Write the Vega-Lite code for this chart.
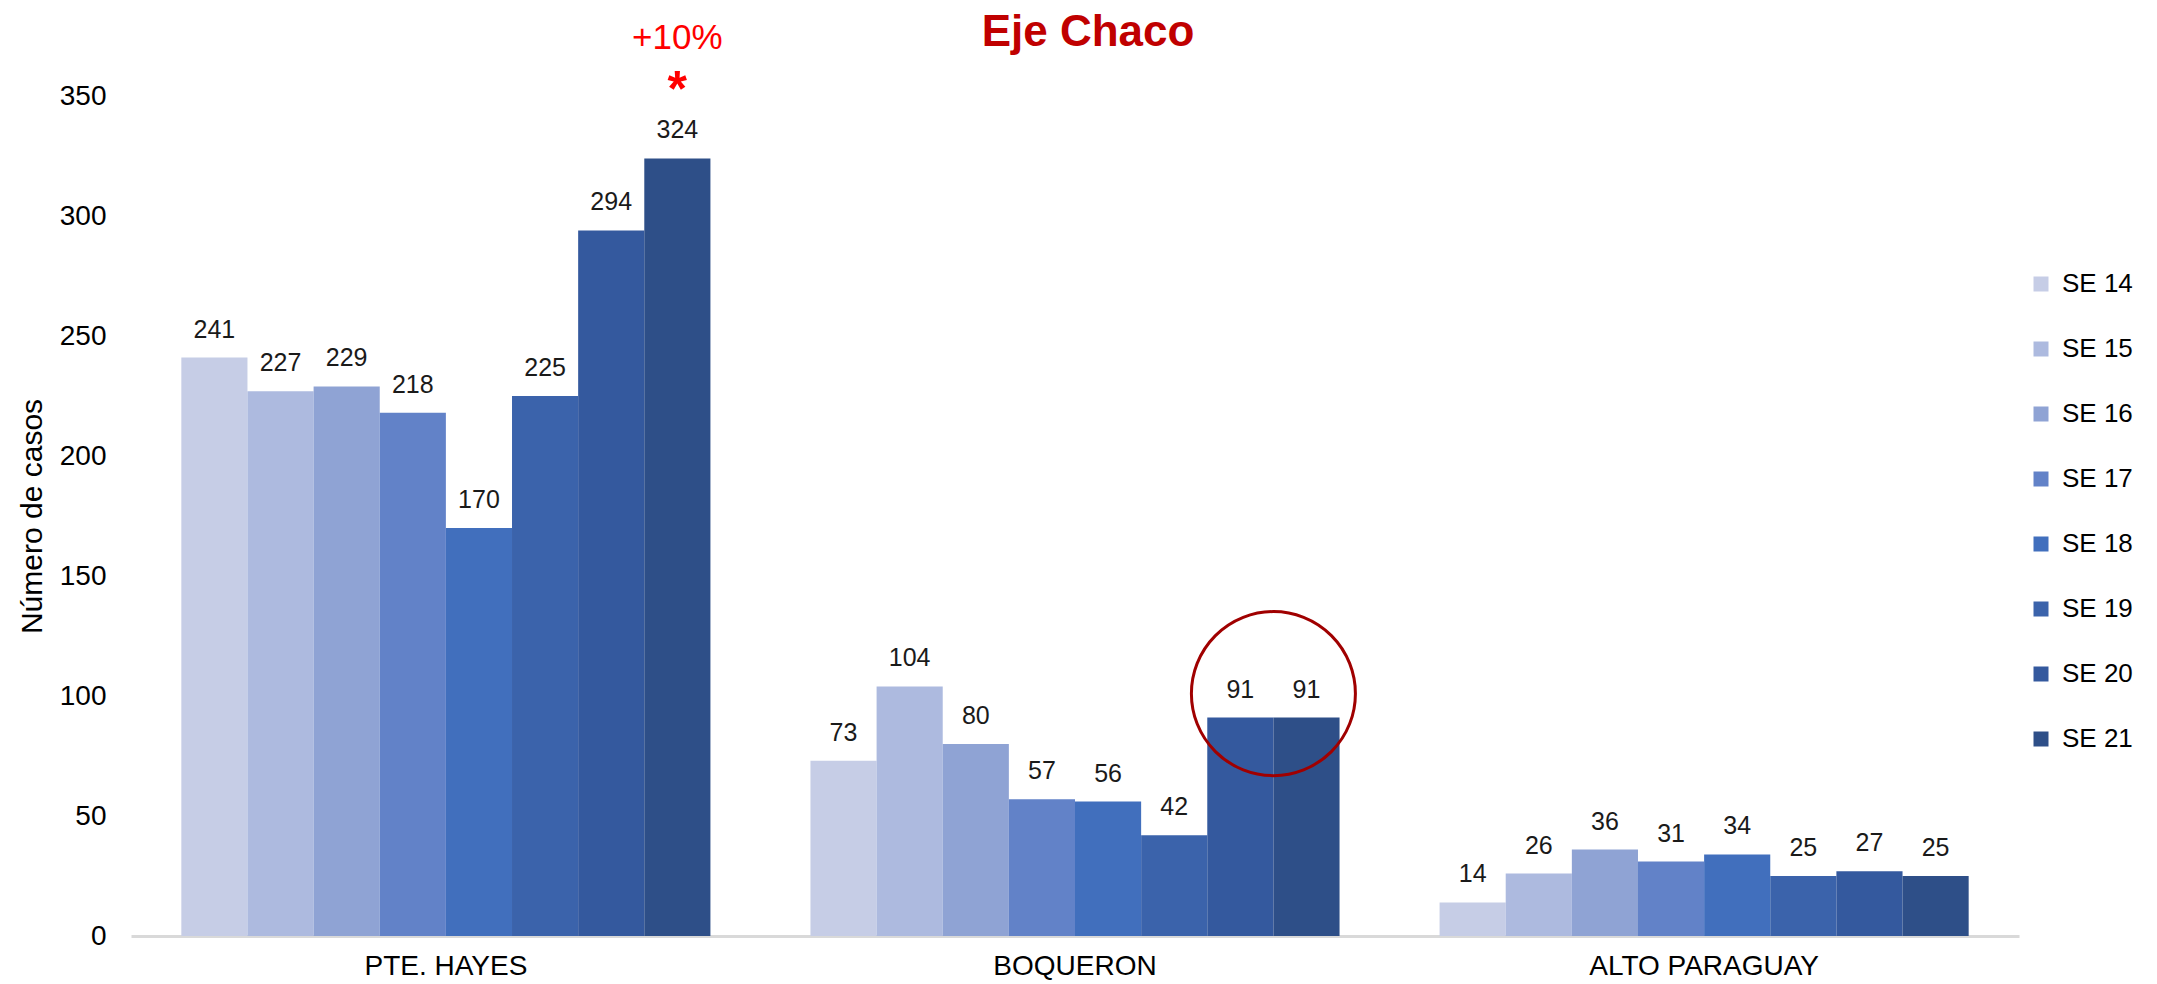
{
  "$schema": "https://vega.github.io/schema/vega-lite/v6.json",
  "width": 1888,
  "height": 840,
  "autosize": {"type": "none"},
  "padding": {"left": 131, "top": 96, "right": 138, "bottom": 48},
  "background": "white",
  "config": {
    "font": "Liberation Sans",
    "view": {"stroke": null},
    "axis": {"grid": false, "ticks": false, "tickSize": 0, "labelColor": "#000000", "titleColor": "#000000", "labelFont": "Liberation Sans", "titleFont": "Liberation Sans"}
  },
  "title": {
    "text": "Eje Chaco",
    "fontSize": 44,
    "fontWeight": "bold",
    "color": "#C00000",
    "anchor": "middle",
    "offset": 0,
    "dy": 34,
    "dx": 13
  },
  "datasets": {
    "casos": [
      {"region": "PTE. HAYES", "semana": "SE 14", "casos": 241},
      {"region": "PTE. HAYES", "semana": "SE 15", "casos": 227},
      {"region": "PTE. HAYES", "semana": "SE 16", "casos": 229},
      {"region": "PTE. HAYES", "semana": "SE 17", "casos": 218},
      {"region": "PTE. HAYES", "semana": "SE 18", "casos": 170},
      {"region": "PTE. HAYES", "semana": "SE 19", "casos": 225},
      {"region": "PTE. HAYES", "semana": "SE 20", "casos": 294},
      {"region": "PTE. HAYES", "semana": "SE 21", "casos": 324},
      {"region": "BOQUERON", "semana": "SE 14", "casos": 73},
      {"region": "BOQUERON", "semana": "SE 15", "casos": 104},
      {"region": "BOQUERON", "semana": "SE 16", "casos": 80},
      {"region": "BOQUERON", "semana": "SE 17", "casos": 57},
      {"region": "BOQUERON", "semana": "SE 18", "casos": 56},
      {"region": "BOQUERON", "semana": "SE 19", "casos": 42},
      {"region": "BOQUERON", "semana": "SE 20", "casos": 91},
      {"region": "BOQUERON", "semana": "SE 21", "casos": 91},
      {"region": "ALTO PARAGUAY", "semana": "SE 14", "casos": 14},
      {"region": "ALTO PARAGUAY", "semana": "SE 15", "casos": 26},
      {"region": "ALTO PARAGUAY", "semana": "SE 16", "casos": 36},
      {"region": "ALTO PARAGUAY", "semana": "SE 17", "casos": 31},
      {"region": "ALTO PARAGUAY", "semana": "SE 18", "casos": 34},
      {"region": "ALTO PARAGUAY", "semana": "SE 19", "casos": 25},
      {"region": "ALTO PARAGUAY", "semana": "SE 20", "casos": 27},
      {"region": "ALTO PARAGUAY", "semana": "SE 21", "casos": 25}
    ],
    "notas": [
      {"region": "PTE. HAYES", "semana": "SE 21", "casos": 374, "nota": "+10%"}
    ],
    "asterisco": [
      {"region": "PTE. HAYES", "semana": "SE 21", "casos": 346, "nota": "*"}
    ],
    "circulo": [
      {"region": "BOQUERON", "casos": 101}
    ]
  },
  "data": {"name": "casos"},
  "encoding": {
    "x": {
      "field": "region",
      "type": "nominal",
      "scale": {"domain": ["PTE. HAYES", "BOQUERON", "ALTO PARAGUAY"], "paddingInner": 0.159, "paddingOuter": 0.08},
      "axis": {"title": null, "labelAngle": 0, "labelFontSize": 28, "labelPadding": 16, "labelLimit": 0, "domainColor": "#D9D9D9", "domainWidth": 3}
    },
    "y": {
      "field": "casos",
      "type": "quantitative",
      "scale": {"domain": [0, 350], "nice": false},
      "axis": {"title": "Número de casos", "values": [0, 50, 100, 150, 200, 250, 300, 350], "domain": false, "labelFontSize": 28, "labelPadding": 25, "titleFontSize": 30, "titleFontWeight": "normal", "titlePadding": 12}
    }
  },
  "layer": [
    {
      "encoding": {
        "xOffset": {
          "field": "semana",
          "type": "nominal",
          "scale": {"domain": ["SE 14", "SE 15", "SE 16", "SE 17", "SE 18", "SE 19", "SE 20", "SE 21"], "paddingInner": 0, "paddingOuter": 0}
        }
      },
      "layer": [
        {
          "mark": {"type": "bar"},
          "encoding": {
            "color": {
              "field": "semana",
              "type": "nominal",
              "scale": {
                "domain": ["SE 14", "SE 15", "SE 16", "SE 17", "SE 18", "SE 19", "SE 20", "SE 21"],
                "range": ["#C6CDE6", "#ADBADF", "#8FA3D4", "#6282C8", "#416FBD", "#3B63AB", "#34599E", "#2E4F88"]
              },
              "legend": {
                "title": null,
                "orient": "none",
                "legendX": 1897,
                "legendY": 175,
                "padding": 0,
                "symbolType": "square",
                "symbolSize": 225,
                "symbolStrokeWidth": 0,
                "labelFontSize": 26,
                "labelColor": "#000000",
                "labelOffset": 8,
                "rowPadding": 39
              }
            }
          }
        },
        {
          "mark": {"type": "text", "baseline": "bottom", "dy": -15, "fontSize": 25, "color": "#1a1a1a"},
          "encoding": {"text": {"field": "casos", "type": "quantitative"}}
        },
        {
          "data": {"name": "notas"},
          "mark": {"type": "text", "baseline": "middle", "fontSize": 35, "color": "#FF0000"},
          "encoding": {"text": {"field": "nota", "type": "nominal"}}
        },
        {
          "data": {"name": "asterisco"},
          "mark": {"type": "text", "baseline": "alphabetic", "fontSize": 50, "fontWeight": "bold", "color": "#FF0000"},
          "encoding": {"text": {"field": "nota", "type": "nominal"}}
        }
      ]
    },
    {
      "data": {"name": "circulo"},
      "mark": {"type": "point", "shape": "circle", "filled": false, "stroke": "#A00000", "strokeWidth": 3, "opacity": 1, "size": 26896},
      "encoding": {
        "x": {"field": "region", "type": "nominal", "bandPosition": 0.875}
      }
    }
  ]
}
